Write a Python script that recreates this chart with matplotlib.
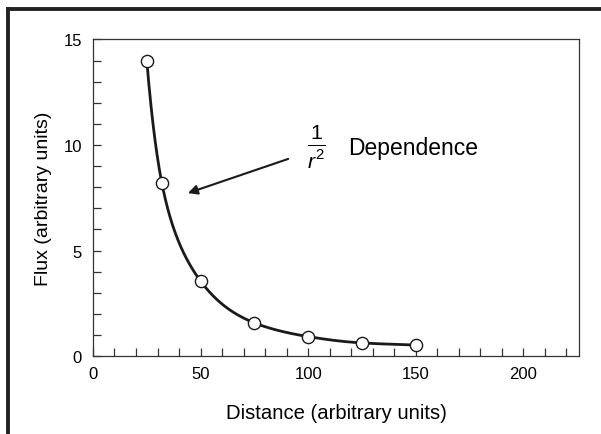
import numpy as np
import matplotlib
matplotlib.use("Agg")
import matplotlib.pyplot as plt
from matplotlib.lines import Line2D
from matplotlib.ticker import MultipleLocator

distance = [25, 32, 50, 75, 100, 125, 150]
flux = [14.0, 8.2, 3.55, 1.57, 0.92, 0.62, 0.52]

x_ticks = [0, 50, 100, 150, 200]
y_ticks = [0, 5, 10, 15]


def pchip(x, y, xs):
    x = np.asarray(x, float)
    y = np.asarray(y, float)
    h = np.diff(x)
    d = np.diff(y) / h
    n = len(x)
    m = np.zeros(n)
    for k in range(1, n - 1):
        if d[k - 1] * d[k] > 0:
            w1 = 2 * h[k] + h[k - 1]
            w2 = h[k] + 2 * h[k - 1]
            m[k] = (w1 + w2) / (w1 / d[k - 1] + w2 / d[k])
    m[0] = d[0]
    m[-1] = d[-1]
    idx = np.clip(np.searchsorted(x, xs) - 1, 0, n - 2)
    t = (xs - x[idx]) / h[idx]
    h00 = 2 * t**3 - 3 * t**2 + 1
    h10 = t**3 - 2 * t**2 + t
    h01 = -2 * t**3 + 3 * t**2
    h11 = t**3 - t**2
    return h00 * y[idx] + h10 * h[idx] * m[idx] + h01 * y[idx + 1] + h11 * h[idx] * m[idx + 1]


plt.rcParams['font.family'] = ['Liberation Sans', 'DejaVu Sans']
plt.rcParams['mathtext.fontset'] = 'custom'
plt.rcParams['mathtext.rm'] = 'Liberation Sans'
plt.rcParams['mathtext.it'] = 'Liberation Sans:italic'

fig = plt.figure(figsize=(6.01, 4.35), dpi=100)
ax = fig.add_axes([0.1547, 0.1793, 0.964 - 0.1547, 0.9069 - 0.1793])

# smooth curve through the points (monotone interpolation in log space)
lx = np.log(distance)
ly = np.log(flux)
xs = np.linspace(lx[0], lx[-1], 400)
ys = pchip(lx, ly, xs)
ax.plot(np.exp(xs), np.exp(ys), color='#1a1a1a', lw=2.0, zorder=2)
ax.plot(distance, flux, 'o', ms=8.8, mfc='white', mec='#1a1a1a', mew=1.0, zorder=3)

ax.set_xlim(0, 226)
ax.set_ylim(0, 15)
ax.set_xticks(x_ticks)
ax.set_yticks(y_ticks)
ax.xaxis.set_minor_locator(MultipleLocator(10))
ax.yaxis.set_minor_locator(MultipleLocator(1))
ax.tick_params(which='both', direction='in', length=5.5, width=0.9, color='#333333',
               labelsize=12, top=False, right=False)
ax.tick_params(axis='y', which='both', length=6)
ax.tick_params(axis='y', pad=8)
ax.tick_params(axis='x', pad=7)
for s in ax.spines.values():
    s.set_linewidth(0.9)
    s.set_color('#333333')

ax.set_xlabel('Distance (arbitrary units)', fontsize=14.6, labelpad=16)
ax.set_ylabel('Flux (arbitrary units)', fontsize=14.0, labelpad=8)

ax.annotate('', xy=(44.1, 7.72), xytext=(90.7, 9.34),
            arrowprops=dict(arrowstyle='-|>', color='#1a1a1a', lw=1.5,
                            mutation_scale=14, shrinkA=0, shrinkB=0))
ax.text(104, 9.95, r'$\frac{1}{r^{2}}$', fontsize=22, ha='center', va='center')
ax.text(118.6, 9.9, 'Dependence', fontsize=16.5, ha='left', va='center')

# figure frame (top and left heavy rules)
fig.add_artist(Line2D([8 / 601, 8 / 601], [0, 1 - 10 / 435], transform=fig.transFigure,
                      color='#222222', lw=2.8, solid_capstyle='projecting'))
fig.add_artist(Line2D([8 / 601, 1], [1 - 10 / 435, 1 - 10 / 435], transform=fig.transFigure,
                      color='#222222', lw=2.8, solid_capstyle='projecting'))

fig.savefig('out.png', dpi=100)
